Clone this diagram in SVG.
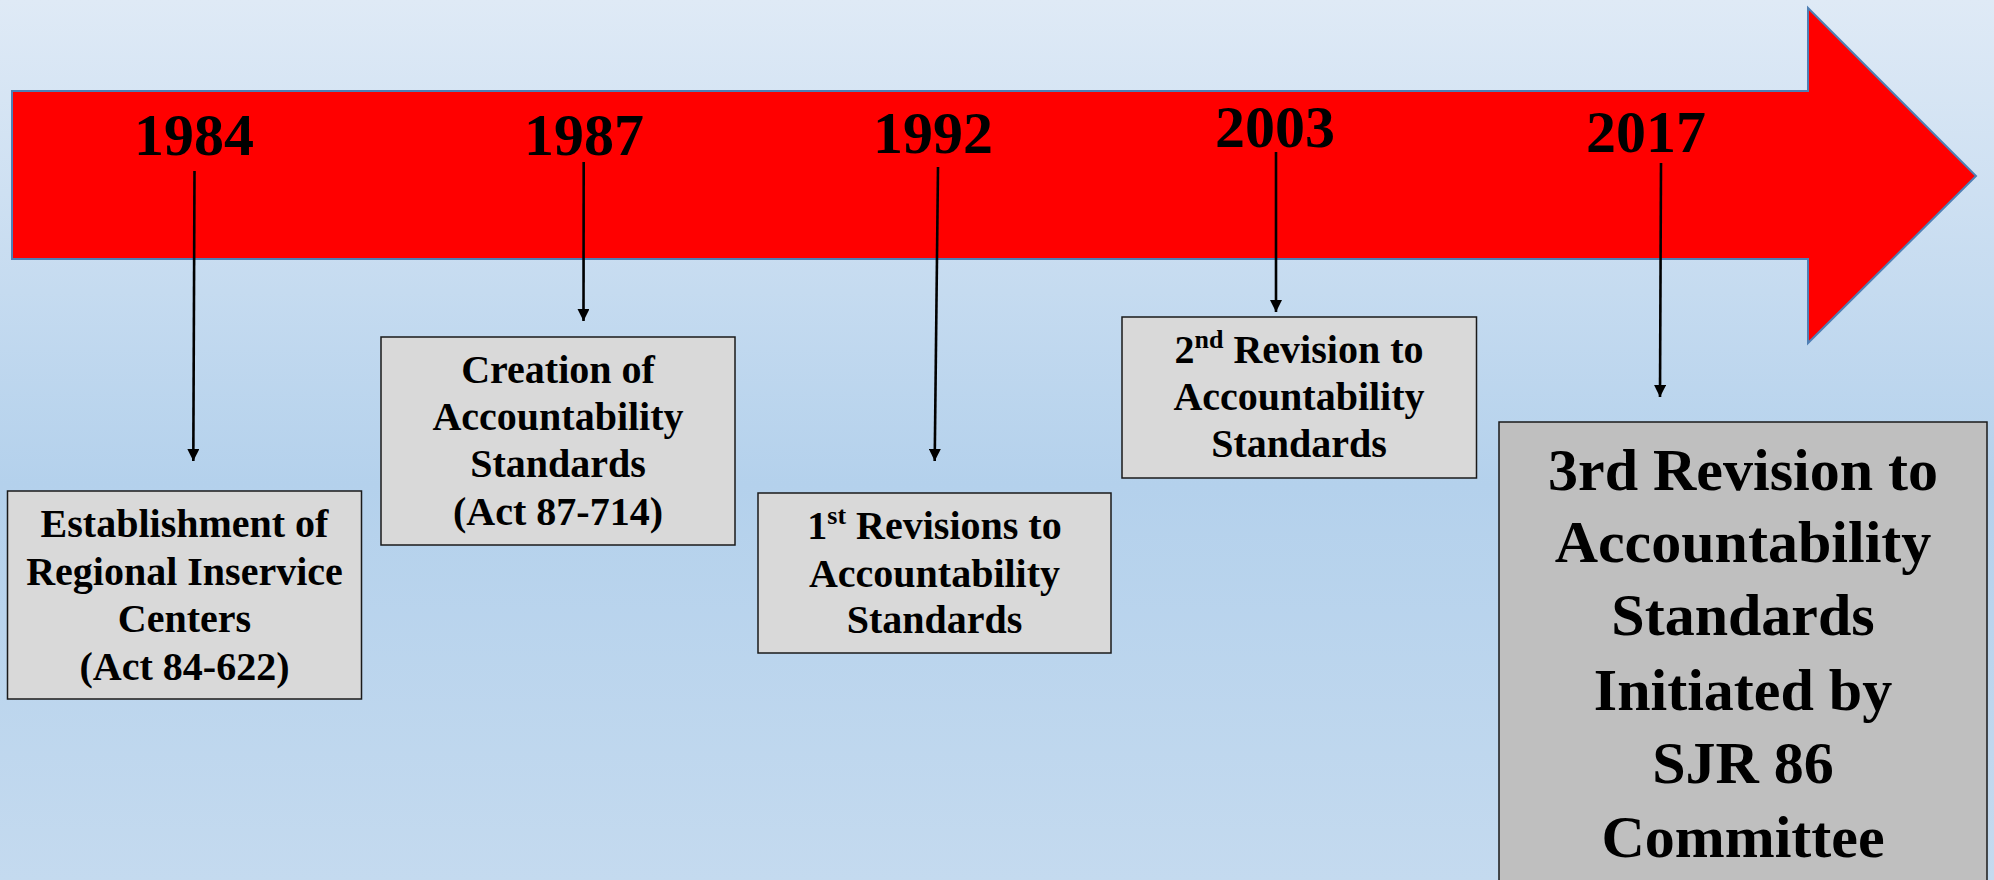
<svg xmlns="http://www.w3.org/2000/svg" width="1994" height="880" viewBox="0 0 1994 880">
  <defs>
    <linearGradient id="bg" x1="0" y1="0" x2="0" y2="1">
      <stop offset="0" stop-color="#dfeaf6"/>
      <stop offset="0.55" stop-color="#b4d1ec"/>
      <stop offset="1" stop-color="#c4daef"/>
    </linearGradient>
    <marker id="tip" viewBox="0 0 10 10" refX="10" refY="5" markerWidth="14" markerHeight="12" markerUnits="userSpaceOnUse" orient="auto">
      <path d="M0,0 L10,5 L0,10 z" fill="#000"/>
    </marker>
    <style>
      .year { font-family: "Liberation Serif", "Times New Roman", serif; font-weight: bold; font-size: 60px; fill: #000; text-anchor: middle; }
      .box { fill: #d9d9d9; stroke: #1a1a1a; stroke-width: 1.5; }
      .box.big { fill: #bfbfbf; }
      .lbl { font-family: "Liberation Serif", "Times New Roman", serif; font-weight: bold; font-size: 40px; fill: #000; text-anchor: middle; }
      .lbl.big { font-size: 60px; }
      .conn { stroke: #000; stroke-width: 2.6; fill: none; marker-end: url(#tip); }
    </style>
  </defs>

  <!-- background -->
  <rect x="0" y="0" width="1994" height="880" fill="url(#bg)"/>

  <!-- timeline arrow -->
  <g id="timeline">
    <path d="M12,91 L1808,91 L1808,8 L1976,176 L1808,343 L1808,259 L12,259 Z" fill="#ff0000" stroke="#4f7fb4" stroke-width="2"/>
    <text class="year" x="194" y="155">1984</text>
    <text class="year" x="584" y="155">1987</text>
    <text class="year" x="933" y="153">1992</text>
    <text class="year" x="1275" y="147">2003</text>
    <text class="year" x="1646" y="152">2017</text>
  </g>

  <!-- connectors -->
  <g id="connectors">
    <path class="conn" d="M194.5,171 L193.3,461"/>
    <path class="conn" d="M583.7,162 L583.5,321"/>
    <path class="conn" d="M938,167 L934.7,461"/>
    <path class="conn" d="M1276,152 L1276,312"/>
    <path class="conn" d="M1661,163 L1660,397"/>
  </g>

  <!-- event boxes -->
  <g id="event-1984">
    <rect class="box" x="7.5" y="491" width="354" height="208"/>
    <text class="lbl" x="184.5" y="536.7">Establishment of</text>
    <text class="lbl" x="184.5" y="584.5">Regional Inservice</text>
    <text class="lbl" x="184.5" y="631.7">Centers</text>
    <text class="lbl" x="184.5" y="680">(Act 84-622)</text>
  </g>

  <g id="event-1987">
    <rect class="box" x="381" y="337" width="354" height="208"/>
    <text class="lbl" x="558" y="382.7">Creation of</text>
    <text class="lbl" x="558" y="430">Accountability</text>
    <text class="lbl" x="558" y="476.7">Standards</text>
    <text class="lbl" x="558" y="525">(Act 87-714)</text>
  </g>

  <g id="event-1992">
    <rect class="box" x="758" y="493" width="353" height="160"/>
    <text class="lbl" x="934.5" y="539">1<tspan font-size="26" dy="-15">st</tspan><tspan dy="15"> Revisions to</tspan></text>
    <text class="lbl" x="934.5" y="586.7">Accountability</text>
    <text class="lbl" x="934.5" y="633">Standards</text>
  </g>

  <g id="event-2003">
    <rect class="box" x="1122" y="317" width="354.5" height="161"/>
    <text class="lbl" x="1299" y="363">2<tspan font-size="26" dy="-15">nd</tspan><tspan dy="15"> Revision to</tspan></text>
    <text class="lbl" x="1299" y="410">Accountability</text>
    <text class="lbl" x="1299" y="457">Standards</text>
  </g>

  <g id="event-2017">
    <rect class="box big" x="1499" y="422" width="488" height="470"/>
    <text class="lbl big" x="1743" y="490">3rd Revision to</text>
    <text class="lbl big" x="1743" y="562">Accountability</text>
    <text class="lbl big" x="1743" y="635">Standards</text>
    <text class="lbl big" x="1743" y="710">Initiated by</text>
    <text class="lbl big" x="1743" y="783">SJR 86</text>
    <text class="lbl big" x="1743" y="857">Committee</text>
  </g>
</svg>
